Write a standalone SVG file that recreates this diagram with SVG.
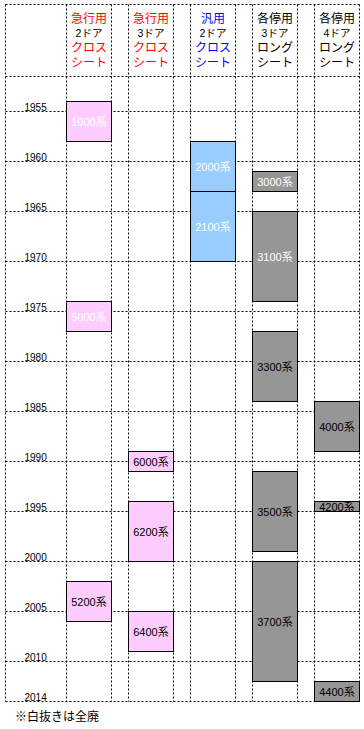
<svg xmlns="http://www.w3.org/2000/svg" width="364" height="729" viewBox="0 0 364 729">
<style>
.g{stroke:#000;stroke-width:1;stroke-dasharray:2 2;fill:none}
.b{stroke:#000;stroke-width:1}
.pk{fill:#FFCCFF}
.bl{fill:#99CCFF}
.gr{fill:#969696}
.t{font-family:"Liberation Sans","Noto Sans CJK JP",sans-serif;font-size:11px;text-anchor:middle;dominant-baseline:central}
.w{fill:#fff}
.k{fill:#000}
.h{font-family:"Noto Sans CJK JP",sans-serif;font-size:12px;text-anchor:middle}
.h2{font-family:"Liberation Sans","Noto Sans CJK JP",sans-serif;font-size:10.5px;text-anchor:middle}
.y{font-family:"Liberation Sans",sans-serif;font-size:10px}
.r{fill:#FF0000}
.u{fill:#0000FF}
</style>
<defs>
<clipPath id="c4200"><rect x="314.5" y="501.5" width="45" height="10"/></clipPath>
</defs>
<g id="grid">
<path class="g" d="M5.5 4.5V701.5M66.5 4.5V701.5M111.5 4.5V701.5M128.5 4.5V701.5M173.5 4.5V701.5M190.5 4.5V701.5M235.5 4.5V701.5M252.5 4.5V701.5M297.5 4.5V701.5M314.5 4.5V701.5M359.5 4.5V701.5"/>
<path class="g" d="M5.5 4.5H359.5M5.5 76.5H359.5M5.5 111.5H359.5M5.5 161.5H359.5M5.5 211.5H359.5M5.5 261.5H359.5M5.5 311.5H359.5M5.5 361.5H359.5M5.5 411.5H359.5M5.5 461.5H359.5M5.5 511.5H359.5M5.5 561.5H359.5M5.5 611.5H359.5M5.5 661.5H359.5M5.5 701.5H359.5"/>
</g>
<g id="years" class="y">
<text x="24.5" y="111">1955</text>
<text x="24.5" y="161">1960</text>
<text x="24.5" y="211">1965</text>
<text x="24.5" y="261">1970</text>
<text x="24.5" y="311">1975</text>
<text x="24.5" y="361">1980</text>
<text x="24.5" y="411">1985</text>
<text x="24.5" y="461">1990</text>
<text x="24.5" y="511">1995</text>
<text x="24.5" y="561">2000</text>
<text x="24.5" y="611">2005</text>
<text x="24.5" y="661">2010</text>
<text x="24.5" y="701">2014</text>
</g>
<g id="header">
<g id="h1"><text class="h r" x="89" y="22.5">急行用</text><text class="h2 k" x="89" y="37">2ドア</text><text class="h r" x="89" y="52">クロス</text><text class="h r" x="89" y="66.5">シート</text></g>
<g id="h2"><text class="h r" x="151" y="22.5">急行用</text><text class="h2 k" x="151" y="37">3ドア</text><text class="h r" x="151" y="52">クロス</text><text class="h r" x="151" y="66.5">シート</text></g>
<g id="h3"><text class="h u" x="213" y="22.5">汎用</text><text class="h2 k" x="213" y="37">2ドア</text><text class="h u" x="213" y="52">クロス</text><text class="h u" x="213" y="66.5">シート</text></g>
<g id="h4"><text class="h k" x="275" y="22.5">各停用</text><text class="h2 k" x="275" y="37">3ドア</text><text class="h k" x="275" y="52">ロング</text><text class="h k" x="275" y="66.5">シート</text></g>
<g id="h5"><text class="h k" x="337" y="22.5">各停用</text><text class="h2 k" x="337" y="37">4ドア</text><text class="h k" x="337" y="52">ロング</text><text class="h k" x="337" y="66.5">シート</text></g>
</g>
<g id="s1000"><rect class="b pk" x="66.5" y="101.5" width="45" height="40"/><text class="t w" x="89" y="121.5">1000系</text></g>
<g id="s5000"><rect class="b pk" x="66.5" y="301.5" width="45" height="30"/><text class="t w" x="89" y="316.5">5000系</text></g>
<g id="s5200"><rect class="b pk" x="66.5" y="581.5" width="45" height="40"/><text class="t k" x="89" y="601.5">5200系</text></g>
<g id="s6000"><rect class="b pk" x="128.5" y="451.5" width="45" height="20"/><text class="t k" x="151" y="461.5">6000系</text></g>
<g id="s6200"><rect class="b pk" x="128.5" y="501.5" width="45" height="60"/><text class="t k" x="151" y="531.5">6200系</text></g>
<g id="s6400"><rect class="b pk" x="128.5" y="611.5" width="45" height="40"/><text class="t k" x="151" y="631.5">6400系</text></g>
<g id="s2000"><rect class="b bl" x="190.5" y="141.5" width="45" height="50"/><text class="t w" x="213" y="166.5">2000系</text></g>
<g id="s2100"><rect class="b bl" x="190.5" y="191.5" width="45" height="70"/><text class="t w" x="213" y="226.5">2100系</text></g>
<g id="s3000"><rect class="b gr" x="252.5" y="171.5" width="45" height="20"/><text class="t w" x="275" y="181.5">3000系</text></g>
<g id="s3100"><rect class="b gr" x="252.5" y="211.5" width="45" height="90"/><text class="t w" x="275" y="256.5">3100系</text></g>
<g id="s3300"><rect class="b gr" x="252.5" y="331.5" width="45" height="70"/><text class="t k" x="275" y="366.5">3300系</text></g>
<g id="s3500"><rect class="b gr" x="252.5" y="471.5" width="45" height="80"/><text class="t k" x="275" y="511.5">3500系</text></g>
<g id="s3700"><rect class="b gr" x="252.5" y="561.5" width="45" height="120"/><text class="t k" x="275" y="621.5">3700系</text></g>
<g id="s4000"><rect class="b gr" x="314.5" y="401.5" width="45" height="50"/><text class="t k" x="337" y="426.5">4000系</text></g>
<g id="s4200"><rect class="b gr" x="314.5" y="501.5" width="45" height="10"/><text class="t k" x="337" y="506.5" clip-path="url(#c4200)">4200系</text></g>
<g id="s4400"><rect class="b gr" x="314.5" y="681.5" width="45" height="20"/><text class="t k" x="337" y="691.5">4400系</text></g>
<text x="15" y="721" style="font-family:'Noto Sans CJK JP',sans-serif;font-size:12px" fill="#000">※白抜きは全廃</text>
</svg>
